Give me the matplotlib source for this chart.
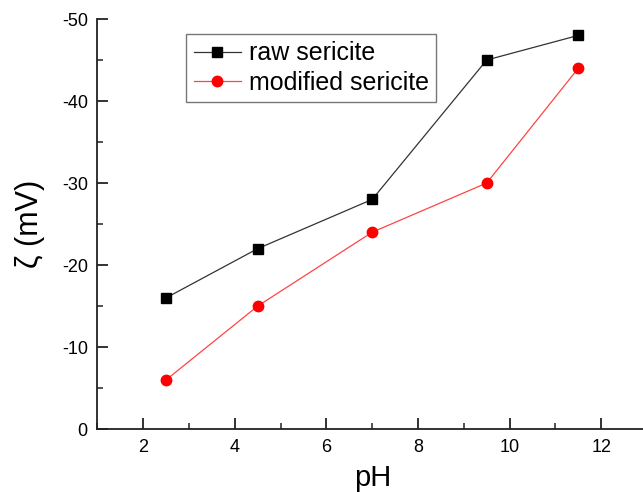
import matplotlib
matplotlib.use("Agg")
import matplotlib.pyplot as plt
from matplotlib.ticker import MultipleLocator

plt.rcParams['font.family'] = ['Liberation Sans', 'DejaVu Sans']

ph = [2.5, 4.5, 7, 9.5, 11.5]
raw = [-16, -22, -28, -45, -48]
modified = [-6, -15, -24, -30, -44]
xticks = [2, 4, 6, 8, 10, 12]
yticks = [0, -10, -20, -30, -40, -50]

W, H = 643, 492
fig = plt.figure(figsize=(W/100, H/100), dpi=100)
ax = fig.add_axes([97.5/W, 1-429/H, (647-97.5)/W, (429-19)/H])

ax.plot(ph, raw, color='#333333', lw=0.9, marker='s', ms=6.5, mfc='black', mec='black',
        label='raw sericite')
ax.plot(ph, modified, color='#ff4444', lw=0.9, marker='o', ms=7.5, mfc='red', mec='red',
        label='modified sericite')

ax.set_xlim(1, 13)
ax.set_ylim(0, -50)
ax.set_xticks(xticks)
ax.set_yticks(yticks)
ax.set_yticklabels([str(v) for v in yticks])
ax.xaxis.set_minor_locator(MultipleLocator(1))
ax.yaxis.set_minor_locator(MultipleLocator(5))
ax.tick_params(which='major', direction='in', length=8, width=1.3, labelsize=13, pad=7, color='#222222')
ax.tick_params(which='minor', direction='in', length=4, width=1.1, color='#222222')
ax.tick_params(axis='y', which='both', right=False)
ax.tick_params(axis='x', which='both', top=False)
for s in ['top', 'right']:
    ax.spines[s].set_visible(False)
for s in ['left', 'bottom']:
    ax.spines[s].set_linewidth(1.3)
    ax.spines[s].set_color('#222222')

ax.set_xlabel('pH', fontsize=21, labelpad=6)
ax.set_ylabel('ζ (mV)', fontsize=22, labelpad=12)

leg = ax.legend(loc='upper left', bbox_to_anchor=(186/W, 1-34/H), bbox_transform=fig.transFigure,
                fontsize=18, frameon=True, fancybox=False, edgecolor='#555555',
                borderpad=0.3, handlelength=1.9, handletextpad=0.3, labelspacing=0.2,
                borderaxespad=0)
leg.get_frame().set_linewidth(1.0)

fig.savefig('out.png', dpi=100)
